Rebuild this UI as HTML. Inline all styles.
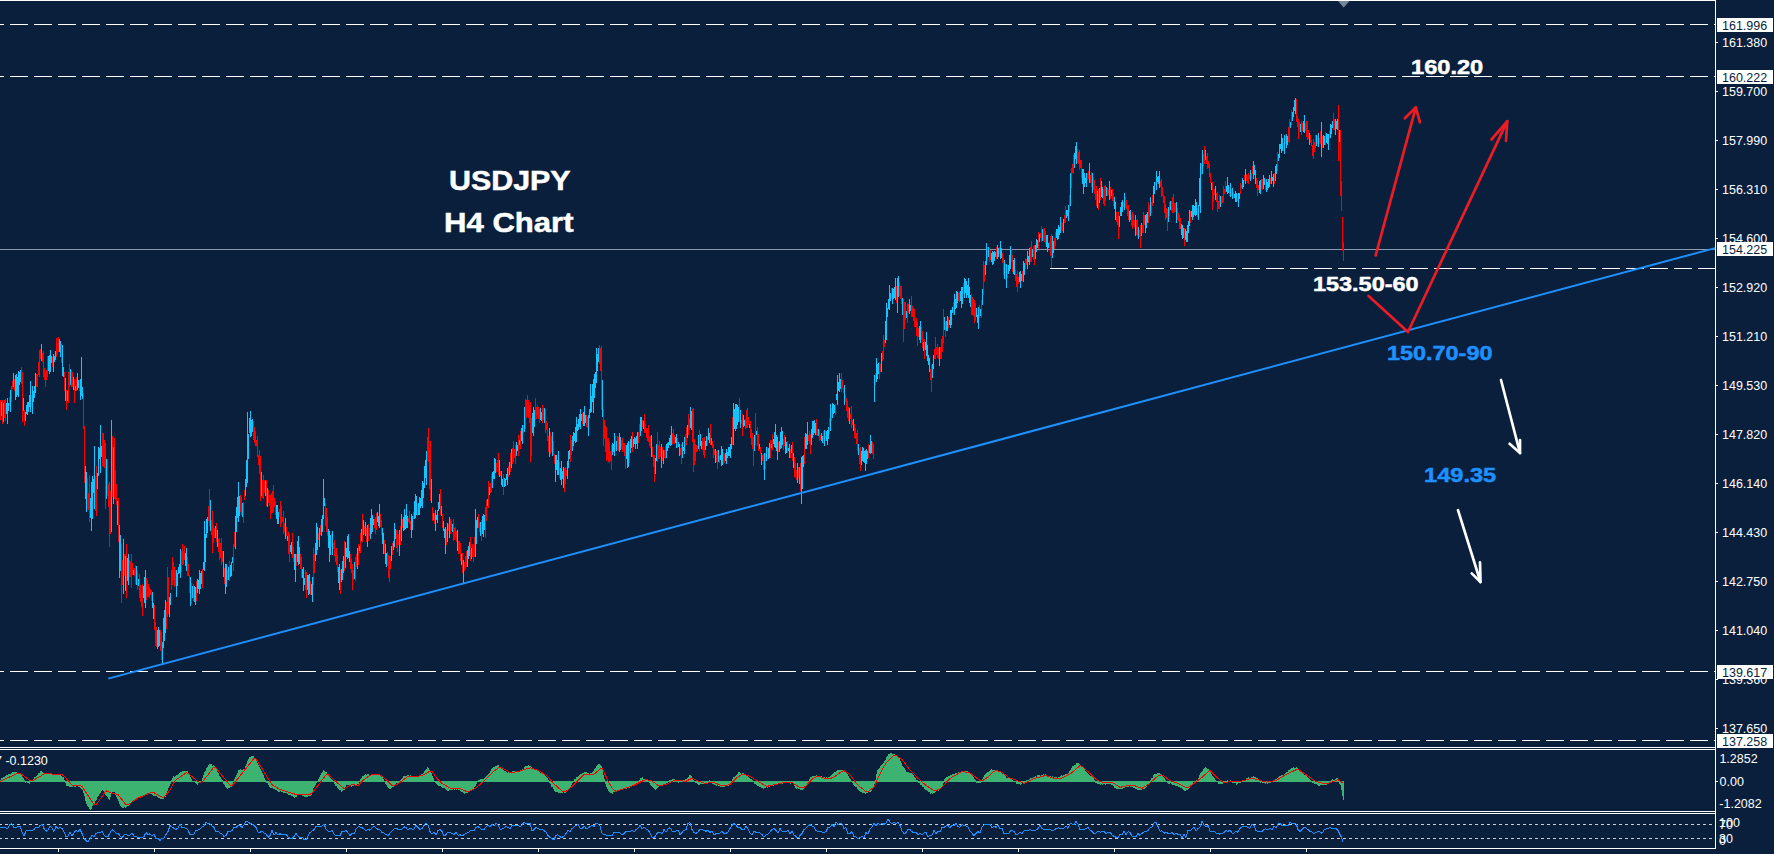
<!DOCTYPE html>
<html><head><meta charset="utf-8"><title>USDJPY H4 Chart</title>
<style>
html,body{margin:0;padding:0;background:#091f3c;}
body{width:1774px;height:854px;position:relative;overflow:hidden;font-family:"Liberation Sans",sans-serif;}
svg{position:absolute;left:0;top:0;}
.ax{position:absolute;left:1722px;color:#fff;font-size:12.5px;line-height:14px;height:14px;white-space:nowrap;}
.bx{position:absolute;left:1717px;width:56px;height:14px;background:#fff;color:#091f3c;font-size:12.5px;line-height:14px;white-space:nowrap;}
.bx span{position:absolute;left:5px;top:1px;}
.big{position:absolute;color:#fff;font-weight:bold;white-space:nowrap;transform-origin:0 0;-webkit-text-stroke:0.5px currentColor;}
</style></head><body>
<svg width="1774" height="854" viewBox="0 0 1774 854">
<rect width="1774" height="854" fill="#091f3c"/>
<g shape-rendering="crispEdges" fill="none">
<!-- borders -->
<path d="M0 .5H1716" stroke="#fff"/>
<path d="M1715.5 0V849" stroke="#fff"/>
<path d="M0 747.5H1716M0 749.5H1716M0 811.5H1716M0 813.5H1716M0 848.5H1716" stroke="#fff"/>
<rect x="1716" y="748" width="58" height="1" fill="#091f3c" stroke="none"/>
<!-- dashed levels -->
<path d="M-14 24.5H1715M-14 76.5H1715M-14 671.5H1715M-14 740.5H1715" stroke="#fff" stroke-dasharray="18 6"/>
<path d="M1050 268.5H1715" stroke="#fff" stroke-dasharray="18 6"/>
<path d="M0 249.5H1715" stroke="#8c9aad"/>
<!-- RSI levels -->
<path d="M-1 824.5H1713M-1 838.5H1713" stroke="#cfcfcf" stroke-dasharray="3 3"/>

<path d="M1716 42.5H1718M1716 91.5H1718M1716 140.5H1718M1716 189.5H1718M1716 238.5H1718M1716 287.5H1718M1716 336.5H1718M1716 385.5H1718M1716 434.5H1718M1716 483.5H1718M1716 532.5H1718M1716 581.5H1718M1716 630.5H1718M1716 679.5H1718M1716 728.5H1718M1716 781.5H1718" stroke="#fff"/>
<path d="M58.5 848V852M154.5 848V852M250.5 848V852M346.5 848V852M442.5 848V852M538.5 848V852M634.5 848V852M730.5 848V852M826.5 848V852M922.5 848V852M1018.5 848V852M1114.5 848V852M1210.5 848V852M1306.5 848V852" stroke="#fff"/>
<path d="M0.5 780V782M1.5 778V782M2.5 778V782M3.5 777V782M4.5 777V782M5.5 776V782M6.5 775V782M7.5 775V782M8.5 774V782M9.5 774V782M10.5 774V782M11.5 773V782M12.5 772V782M13.5 772V782M14.5 772V782M15.5 772V782M16.5 772V782M17.5 773V782M18.5 773V782M19.5 773V782M20.5 774V782M21.5 775V782M22.5 777V782M23.5 778V782M24.5 780V782M25.5 781V783M26.5 781V782M27.5 781V783M28.5 781V783M29.5 781V784M30.5 781V782M31.5 780V782M32.5 780V782M33.5 779V782M34.5 777V782M35.5 777V782M36.5 776V782M37.5 775V782M38.5 773V782M39.5 773V782M40.5 771V782M41.5 771V782M42.5 772V782M43.5 773V782M44.5 773V782M45.5 773V782M46.5 773V782M47.5 774V782M48.5 773V782M49.5 774V782M50.5 774V782M51.5 774V782M52.5 774V782M53.5 774V782M54.5 774V782M55.5 774V782M56.5 774V782M57.5 774V782M58.5 774V782M59.5 774V782M60.5 775V782M61.5 776V782M62.5 777V782M63.5 777V782M64.5 780V782M65.5 781V783M66.5 781V786M67.5 781V786M68.5 781V786M69.5 781V787M70.5 781V787M71.5 781V787M72.5 781V787M73.5 781V786M74.5 781V787M75.5 781V787M76.5 781V786M77.5 781V786M78.5 781V787M79.5 781V787M80.5 781V788M81.5 781V789M82.5 781V790M83.5 781V793M84.5 781V796M85.5 781V801M86.5 781V804M87.5 781V806M88.5 781V807M89.5 781V809M90.5 781V810M91.5 781V809M92.5 781V806M93.5 781V805M94.5 781V804M95.5 781V801M96.5 781V800M97.5 781V797M98.5 781V796M99.5 781V794M100.5 781V793M101.5 781V791M102.5 781V790M103.5 781V791M104.5 781V793M105.5 781V795M106.5 781V796M107.5 781V797M108.5 781V799M109.5 781V800M110.5 781V797M111.5 781V793M112.5 781V792M113.5 781V792M114.5 781V792M115.5 781V795M116.5 781V797M117.5 781V799M118.5 781V801M119.5 781V804M120.5 781V806M121.5 781V807M122.5 781V808M123.5 781V808M124.5 781V807M125.5 781V808M126.5 781V807M127.5 781V806M128.5 781V806M129.5 781V805M130.5 781V804M131.5 781V802M132.5 781V802M133.5 781V801M134.5 781V800M135.5 781V799M136.5 781V799M137.5 781V799M138.5 781V798M139.5 781V797M140.5 781V797M141.5 781V797M142.5 781V796M143.5 781V796M144.5 781V795M145.5 781V795M146.5 781V795M147.5 781V794M148.5 781V794M149.5 781V793M150.5 781V794M151.5 781V794M152.5 781V795M153.5 781V796M154.5 781V796M155.5 781V796M156.5 781V796M157.5 781V797M158.5 781V798M159.5 781V798M160.5 781V799M161.5 781V799M162.5 781V799M163.5 781V799M164.5 781V797M165.5 781V797M166.5 781V794M167.5 781V791M168.5 781V788M169.5 781V786M170.5 781V784M171.5 780V782M172.5 778V782M173.5 776V782M174.5 777V782M175.5 776V782M176.5 775V782M177.5 775V782M178.5 774V782M179.5 773V782M180.5 772V782M181.5 772V782M182.5 771V782M183.5 771V782M184.5 771V782M185.5 771V782M186.5 771V782M187.5 771V782M188.5 774V782M189.5 775V782M190.5 777V782M191.5 779V782M192.5 781V782M193.5 781V782M194.5 781V782M195.5 781V783M196.5 781V784M197.5 781V785M198.5 781V783M199.5 781V783M200.5 781V783M201.5 781V782M202.5 778V782M203.5 775V782M204.5 772V782M205.5 771V782M206.5 768V782M207.5 767V782M208.5 765V782M209.5 764V782M210.5 764V782M211.5 764V782M212.5 766V782M213.5 765V782M214.5 766V782M215.5 768V782M216.5 769V782M217.5 772V782M218.5 773V782M219.5 776V782M220.5 777V782M221.5 779V782M222.5 780V782M223.5 781V784M224.5 781V785M225.5 781V787M226.5 781V788M227.5 781V789M228.5 781V788M229.5 781V788M230.5 781V787M231.5 781V787M232.5 781V784M233.5 781V782M234.5 779V782M235.5 777V782M236.5 775V782M237.5 773V782M238.5 770V782M239.5 770V782M240.5 769V782M241.5 770V782M242.5 770V782M243.5 769V782M244.5 770V782M245.5 766V782M246.5 764V782M247.5 761V782M248.5 759V782M249.5 757V782M250.5 757V782M251.5 756V782M252.5 756V782M253.5 756V782M254.5 758V782M255.5 759V782M256.5 761V782M257.5 763V782M258.5 765V782M259.5 767V782M260.5 769V782M261.5 771V782M262.5 773V782M263.5 775V782M264.5 778V782M265.5 780V782M266.5 781V783M267.5 781V783M268.5 781V785M269.5 781V787M270.5 781V788M271.5 781V788M272.5 781V788M273.5 781V789M274.5 781V789M275.5 781V790M276.5 781V790M277.5 781V791M278.5 781V792M279.5 781V792M280.5 781V791M281.5 781V792M282.5 781V792M283.5 781V793M284.5 781V793M285.5 781V793M286.5 781V793M287.5 781V794M288.5 781V795M289.5 781V795M290.5 781V795M291.5 781V796M292.5 781V796M293.5 781V797M294.5 781V798M295.5 781V797M296.5 781V797M297.5 781V795M298.5 781V795M299.5 781V795M300.5 781V795M301.5 781V795M302.5 781V796M303.5 781V796M304.5 781V797M305.5 781V797M306.5 781V797M307.5 781V797M308.5 781V796M309.5 781V796M310.5 781V796M311.5 781V795M312.5 781V793M313.5 781V788M314.5 781V787M315.5 781V785M316.5 781V783M317.5 781V782M318.5 779V782M319.5 777V782M320.5 775V782M321.5 773V782M322.5 772V782M323.5 770V782M324.5 771V782M325.5 772V782M326.5 772V782M327.5 774V782M328.5 775V782M329.5 776V782M330.5 778V782M331.5 779V782M332.5 780V782M333.5 781V782M334.5 781V784M335.5 781V786M336.5 781V786M337.5 781V788M338.5 781V789M339.5 781V790M340.5 781V790M341.5 781V792M342.5 781V791M343.5 781V790M344.5 781V790M345.5 781V787M346.5 781V785M347.5 781V785M348.5 781V785M349.5 781V785M350.5 781V786M351.5 781V787M352.5 781V786M353.5 781V786M354.5 781V785M355.5 781V785M356.5 781V785M357.5 781V784M358.5 781V784M359.5 781V782M360.5 779V782M361.5 778V782M362.5 776V782M363.5 776V782M364.5 775V782M365.5 774V782M366.5 775V782M367.5 774V782M368.5 774V782M369.5 775V782M370.5 775V782M371.5 775V782M372.5 775V782M373.5 775V782M374.5 775V782M375.5 775V782M376.5 775V782M377.5 774V782M378.5 775V782M379.5 774V782M380.5 775V782M381.5 776V782M382.5 777V782M383.5 779V782M384.5 781V782M385.5 781V784M386.5 781V785M387.5 781V787M388.5 781V788M389.5 781V789M390.5 781V789M391.5 781V788M392.5 781V787M393.5 781V787M394.5 781V786M395.5 781V785M396.5 781V783M397.5 781V783M398.5 781V783M399.5 781V783M400.5 780V782M401.5 779V782M402.5 778V782M403.5 776V782M404.5 776V782M405.5 776V782M406.5 776V782M407.5 775V782M408.5 775V782M409.5 776V782M410.5 775V782M411.5 776V782M412.5 776V782M413.5 776V782M414.5 776V782M415.5 776V782M416.5 776V782M417.5 776V782M418.5 776V782M419.5 775V782M420.5 775V782M421.5 774V782M422.5 774V782M423.5 773V782M424.5 771V782M425.5 770V782M426.5 769V782M427.5 767V782M428.5 768V782M429.5 770V782M430.5 771V782M431.5 773V782M432.5 776V782M433.5 778V782M434.5 781V782M435.5 781V783M436.5 781V784M437.5 781V785M438.5 781V786M439.5 781V786M440.5 781V786M441.5 781V787M442.5 781V788M443.5 781V788M444.5 781V788M445.5 781V789M446.5 781V790M447.5 781V791M448.5 781V791M449.5 781V790M450.5 781V790M451.5 781V790M452.5 781V790M453.5 781V789M454.5 781V790M455.5 781V789M456.5 781V790M457.5 781V789M458.5 781V790M459.5 781V790M460.5 781V791M461.5 781V792M462.5 781V792M463.5 781V793M464.5 781V794M465.5 781V793M466.5 781V793M467.5 781V793M468.5 781V792M469.5 781V791M470.5 781V791M471.5 781V790M472.5 781V790M473.5 781V789M474.5 781V787M475.5 781V786M476.5 781V784M477.5 781V782M478.5 780V782M479.5 780V782M480.5 779V782M481.5 779V782M482.5 779V782M483.5 779V782M484.5 778V782M485.5 777V782M486.5 776V782M487.5 775V782M488.5 774V782M489.5 773V782M490.5 771V782M491.5 769V782M492.5 768V782M493.5 767V782M494.5 767V782M495.5 766V782M496.5 766V782M497.5 765V782M498.5 765V782M499.5 767V782M500.5 767V782M501.5 768V782M502.5 768V782M503.5 770V782M504.5 771V782M505.5 771V782M506.5 772V782M507.5 773V782M508.5 772V782M509.5 772V782M510.5 772V782M511.5 772V782M512.5 771V782M513.5 771V782M514.5 771V782M515.5 771V782M516.5 771V782M517.5 771V782M518.5 771V782M519.5 771V782M520.5 771V782M521.5 770V782M522.5 769V782M523.5 769V782M524.5 767V782M525.5 766V782M526.5 766V782M527.5 766V782M528.5 765V782M529.5 766V782M530.5 766V782M531.5 767V782M532.5 768V782M533.5 769V782M534.5 769V782M535.5 770V782M536.5 770V782M537.5 771V782M538.5 771V782M539.5 772V782M540.5 773V782M541.5 773V782M542.5 773V782M543.5 774V782M544.5 775V782M545.5 776V782M546.5 777V782M547.5 778V782M548.5 780V782M549.5 781V783M550.5 781V784M551.5 781V787M552.5 781V787M553.5 781V789M554.5 781V791M555.5 781V792M556.5 781V792M557.5 781V792M558.5 781V793M559.5 781V793M560.5 781V793M561.5 781V793M562.5 781V793M563.5 781V792M564.5 781V793M565.5 781V793M566.5 781V792M567.5 781V791M568.5 781V790M569.5 781V788M570.5 781V788M571.5 781V785M572.5 781V783M573.5 781V782M574.5 779V782M575.5 779V782M576.5 777V782M577.5 777V782M578.5 776V782M579.5 775V782M580.5 774V782M581.5 774V782M582.5 773V782M583.5 773V782M584.5 772V782M585.5 772V782M586.5 772V782M587.5 773V782M588.5 773V782M589.5 774V782M590.5 773V782M591.5 773V782M592.5 772V782M593.5 771V782M594.5 769V782M595.5 768V782M596.5 766V782M597.5 765V782M598.5 764V782M599.5 764V782M600.5 765V782M601.5 766V782M602.5 770V782M603.5 775V782M604.5 779V782M605.5 781V784M606.5 781V787M607.5 781V789M608.5 781V791M609.5 781V792M610.5 781V793M611.5 781V793M612.5 781V794M613.5 781V792M614.5 781V792M615.5 781V791M616.5 781V791M617.5 781V791M618.5 781V791M619.5 781V790M620.5 781V790M621.5 781V790M622.5 781V790M623.5 781V789M624.5 781V789M625.5 781V789M626.5 781V789M627.5 781V788M628.5 781V787M629.5 781V788M630.5 781V787M631.5 781V786M632.5 781V786M633.5 781V786M634.5 781V785M635.5 781V784M636.5 781V784M637.5 781V783M638.5 781V782M639.5 780V782M640.5 778V782M641.5 778V782M642.5 777V782M643.5 779V782M644.5 779V782M645.5 779V782M646.5 779V782M647.5 779V782M648.5 780V782M649.5 781V783M650.5 781V785M651.5 781V786M652.5 781V787M653.5 781V788M654.5 781V789M655.5 781V790M656.5 781V789M657.5 781V788M658.5 781V787M659.5 781V786M660.5 781V786M661.5 781V786M662.5 781V785M663.5 781V785M664.5 781V784M665.5 781V784M666.5 781V783M667.5 781V783M668.5 781V782M669.5 780V782M670.5 780V782M671.5 780V782M672.5 779V782M673.5 779V782M674.5 779V782M675.5 780V782M676.5 781V782M677.5 781V782M678.5 781V783M679.5 781V782M680.5 780V782M681.5 780V782M682.5 780V782M683.5 780V782M684.5 780V782M685.5 779V782M686.5 779V782M687.5 778V782M688.5 777V782M689.5 775V782M690.5 775V782M691.5 776V782M692.5 779V782M693.5 780V782M694.5 781V782M695.5 781V783M696.5 781V783M697.5 781V784M698.5 781V785M699.5 781V785M700.5 781V784M701.5 781V784M702.5 781V784M703.5 781V784M704.5 781V784M705.5 781V784M706.5 781V783M707.5 781V783M708.5 781V782M709.5 780V782M710.5 781V782M711.5 781V783M712.5 781V784M713.5 781V784M714.5 781V785M715.5 781V785M716.5 781V786M717.5 781V785M718.5 781V786M719.5 781V786M720.5 781V787M721.5 781V787M722.5 781V787M723.5 781V787M724.5 781V787M725.5 781V786M726.5 781V786M727.5 781V786M728.5 781V786M729.5 781V785M730.5 781V783M731.5 781V782M732.5 779V782M733.5 777V782M734.5 777V782M735.5 776V782M736.5 775V782M737.5 774V782M738.5 772V782M739.5 772V782M740.5 773V782M741.5 774V782M742.5 773V782M743.5 773V782M744.5 774V782M745.5 775V782M746.5 775V782M747.5 776V782M748.5 777V782M749.5 778V782M750.5 779V782M751.5 779V782M752.5 780V782M753.5 781V782M754.5 781V784M755.5 781V784M756.5 781V785M757.5 781V786M758.5 781V786M759.5 781V787M760.5 781V787M761.5 781V788M762.5 781V788M763.5 781V789M764.5 781V788M765.5 781V788M766.5 781V787M767.5 781V788M768.5 781V787M769.5 781V787M770.5 781V786M771.5 781V786M772.5 781V786M773.5 781V786M774.5 781V785M775.5 781V784M776.5 781V785M777.5 781V784M778.5 781V784M779.5 781V783M780.5 781V784M781.5 781V783M782.5 781V784M783.5 781V783M784.5 781V783M785.5 781V782M786.5 781V783M787.5 781V782M788.5 781V783M789.5 781V783M790.5 781V784M791.5 781V783M792.5 781V783M793.5 781V784M794.5 781V786M795.5 781V788M796.5 781V789M797.5 781V788M798.5 781V789M799.5 781V789M800.5 781V790M801.5 781V790M802.5 781V790M803.5 781V789M804.5 781V788M805.5 781V786M806.5 781V785M807.5 781V783M808.5 781V782M809.5 779V782M810.5 777V782M811.5 777V782M812.5 776V782M813.5 776V782M814.5 776V782M815.5 776V782M816.5 775V782M817.5 776V782M818.5 776V782M819.5 776V782M820.5 777V782M821.5 776V782M822.5 777V782M823.5 778V782M824.5 777V782M825.5 778V782M826.5 777V782M827.5 778V782M828.5 777V782M829.5 777V782M830.5 776V782M831.5 775V782M832.5 774V782M833.5 773V782M834.5 772V782M835.5 772V782M836.5 771V782M837.5 770V782M838.5 770V782M839.5 770V782M840.5 770V782M841.5 770V782M842.5 770V782M843.5 770V782M844.5 771V782M845.5 772V782M846.5 773V782M847.5 774V782M848.5 776V782M849.5 778V782M850.5 779V782M851.5 781V782M852.5 781V783M853.5 781V785M854.5 781V786M855.5 781V787M856.5 781V787M857.5 781V789M858.5 781V790M859.5 781V791M860.5 781V792M861.5 781V792M862.5 781V793M863.5 781V793M864.5 781V793M865.5 781V794M866.5 781V793M867.5 781V793M868.5 781V792M869.5 781V792M870.5 781V792M871.5 781V791M872.5 781V789M873.5 781V787M874.5 781V784M875.5 780V782M876.5 774V782M877.5 770V782M878.5 769V782M879.5 768V782M880.5 766V782M881.5 765V782M882.5 764V782M883.5 763V782M884.5 761V782M885.5 760V782M886.5 757V782M887.5 756V782M888.5 754V782M889.5 754V782M890.5 753V782M891.5 753V782M892.5 754V782M893.5 754V782M894.5 754V782M895.5 755V782M896.5 756V782M897.5 757V782M898.5 757V782M899.5 758V782M900.5 761V782M901.5 763V782M902.5 766V782M903.5 767V782M904.5 768V782M905.5 770V782M906.5 772V782M907.5 772V782M908.5 772V782M909.5 773V782M910.5 773V782M911.5 773V782M912.5 774V782M913.5 775V782M914.5 777V782M915.5 778V782M916.5 780V782M917.5 780V782M918.5 781V783M919.5 781V783M920.5 781V785M921.5 781V785M922.5 781V787M923.5 781V787M924.5 781V789M925.5 781V790M926.5 781V790M927.5 781V791M928.5 781V792M929.5 781V792M930.5 781V794M931.5 781V793M932.5 781V794M933.5 781V793M934.5 781V793M935.5 781V792M936.5 781V791M937.5 781V790M938.5 781V791M939.5 781V789M940.5 781V789M941.5 781V787M942.5 781V786M943.5 781V783M944.5 779V782M945.5 778V782M946.5 777V782M947.5 777V782M948.5 776V782M949.5 776V782M950.5 775V782M951.5 775V782M952.5 774V782M953.5 774V782M954.5 774V782M955.5 773V782M956.5 773V782M957.5 773V782M958.5 772V782M959.5 772V782M960.5 772V782M961.5 771V782M962.5 771V782M963.5 771V782M964.5 771V782M965.5 771V782M966.5 771V782M967.5 771V782M968.5 772V782M969.5 772V782M970.5 773V782M971.5 775V782M972.5 775V782M973.5 777V782M974.5 779V782M975.5 780V782M976.5 781V783M977.5 781V783M978.5 781V783M979.5 781V783M980.5 781V783M981.5 781V782M982.5 779V782M983.5 777V782M984.5 775V782M985.5 774V782M986.5 773V782M987.5 772V782M988.5 772V782M989.5 771V782M990.5 770V782M991.5 769V782M992.5 770V782M993.5 770V782M994.5 770V782M995.5 770V782M996.5 770V782M997.5 770V782M998.5 771V782M999.5 771V782M1000.5 771V782M1001.5 772V782M1002.5 774V782M1003.5 774V782M1004.5 775V782M1005.5 776V782M1006.5 778V782M1007.5 778V782M1008.5 778V782M1009.5 778V782M1010.5 779V782M1011.5 779V782M1012.5 780V782M1013.5 781V782M1014.5 781V782M1015.5 781V782M1016.5 781V784M1017.5 781V784M1018.5 781V784M1019.5 781V784M1020.5 781V785M1021.5 781V784M1022.5 781V783M1023.5 781V784M1024.5 781V783M1025.5 781V782M1026.5 780V782M1027.5 780V782M1028.5 780V782M1029.5 779V782M1030.5 778V782M1031.5 778V782M1032.5 778V782M1033.5 777V782M1034.5 777V782M1035.5 776V782M1036.5 777V782M1037.5 775V782M1038.5 775V782M1039.5 775V782M1040.5 776V782M1041.5 775V782M1042.5 775V782M1043.5 774V782M1044.5 775V782M1045.5 774V782M1046.5 775V782M1047.5 776V782M1048.5 776V782M1049.5 777V782M1050.5 776V782M1051.5 777V782M1052.5 776V782M1053.5 778V782M1054.5 777V782M1055.5 777V782M1056.5 777V782M1057.5 778V782M1058.5 777V782M1059.5 777V782M1060.5 776V782M1061.5 775V782M1062.5 776V782M1063.5 775V782M1064.5 775V782M1065.5 774V782M1066.5 774V782M1067.5 774V782M1068.5 773V782M1069.5 771V782M1070.5 770V782M1071.5 768V782M1072.5 766V782M1073.5 766V782M1074.5 765V782M1075.5 765V782M1076.5 763V782M1077.5 763V782M1078.5 763V782M1079.5 764V782M1080.5 765V782M1081.5 766V782M1082.5 767V782M1083.5 768V782M1084.5 769V782M1085.5 771V782M1086.5 772V782M1087.5 773V782M1088.5 774V782M1089.5 775V782M1090.5 776V782M1091.5 776V782M1092.5 777V782M1093.5 778V782M1094.5 780V782M1095.5 781V783M1096.5 781V783M1097.5 781V784M1098.5 781V784M1099.5 781V784M1100.5 781V785M1101.5 781V784M1102.5 781V785M1103.5 781V784M1104.5 781V784M1105.5 781V785M1106.5 781V784M1107.5 781V784M1108.5 781V784M1109.5 781V784M1110.5 781V784M1111.5 781V785M1112.5 781V785M1113.5 781V786M1114.5 781V788M1115.5 781V788M1116.5 781V789M1117.5 781V789M1118.5 781V789M1119.5 781V789M1120.5 781V789M1121.5 781V789M1122.5 781V789M1123.5 781V788M1124.5 781V788M1125.5 781V787M1126.5 781V787M1127.5 781V787M1128.5 781V787M1129.5 781V786M1130.5 781V787M1131.5 781V787M1132.5 781V787M1133.5 781V788M1134.5 781V788M1135.5 781V789M1136.5 781V789M1137.5 781V790M1138.5 781V790M1139.5 781V790M1140.5 781V790M1141.5 781V790M1142.5 781V789M1143.5 781V789M1144.5 781V789M1145.5 781V788M1146.5 781V787M1147.5 781V785M1148.5 781V785M1149.5 781V783M1150.5 780V782M1151.5 778V782M1152.5 778V782M1153.5 775V782M1154.5 774V782M1155.5 774V782M1156.5 774V782M1157.5 773V782M1158.5 773V782M1159.5 773V782M1160.5 774V782M1161.5 775V782M1162.5 775V782M1163.5 777V782M1164.5 778V782M1165.5 780V782M1166.5 781V782M1167.5 781V783M1168.5 781V784M1169.5 781V784M1170.5 781V783M1171.5 781V784M1172.5 781V785M1173.5 781V785M1174.5 781V785M1175.5 781V786M1176.5 781V786M1177.5 781V786M1178.5 781V787M1179.5 781V787M1180.5 781V788M1181.5 781V788M1182.5 781V789M1183.5 781V790M1184.5 781V791M1185.5 781V791M1186.5 781V790M1187.5 781V790M1188.5 781V789M1189.5 781V788M1190.5 781V786M1191.5 781V785M1192.5 781V784M1193.5 781V782M1194.5 781V782M1195.5 781V782M1196.5 780V782M1197.5 780V782M1198.5 778V782M1199.5 775V782M1200.5 773V782M1201.5 772V782M1202.5 771V782M1203.5 769V782M1204.5 768V782M1205.5 767V782M1206.5 768V782M1207.5 769V782M1208.5 769V782M1209.5 771V782M1210.5 772V782M1211.5 774V782M1212.5 776V782M1213.5 777V782M1214.5 778V782M1215.5 780V782M1216.5 781V782M1217.5 781V782M1218.5 781V784M1219.5 781V784M1220.5 781V784M1221.5 781V784M1222.5 781V784M1223.5 781V783M1224.5 781V783M1225.5 781V782M1226.5 781V782M1227.5 780V782M1228.5 781V782M1229.5 781V782M1230.5 780V782M1231.5 781V782M1232.5 781V783M1233.5 781V783M1234.5 781V783M1235.5 781V783M1236.5 781V785M1237.5 781V784M1238.5 781V783M1239.5 781V783M1240.5 781V783M1241.5 781V782M1242.5 781V782M1243.5 780V782M1244.5 780V782M1245.5 780V782M1246.5 778V782M1247.5 778V782M1248.5 777V782M1249.5 778V782M1250.5 778V782M1251.5 777V782M1252.5 777V782M1253.5 776V782M1254.5 777V782M1255.5 777V782M1256.5 778V782M1257.5 778V782M1258.5 780V782M1259.5 780V782M1260.5 781V783M1261.5 781V782M1262.5 781V783M1263.5 781V783M1264.5 781V783M1265.5 781V784M1266.5 781V783M1267.5 781V784M1268.5 781V783M1269.5 781V783M1270.5 781V783M1271.5 781V782M1272.5 781V782M1273.5 781V782M1274.5 780V782M1275.5 779V782M1276.5 779V782M1277.5 778V782M1278.5 777V782M1279.5 776V782M1280.5 776V782M1281.5 775V782M1282.5 775V782M1283.5 775V782M1284.5 774V782M1285.5 773V782M1286.5 772V782M1287.5 772V782M1288.5 770V782M1289.5 770V782M1290.5 769V782M1291.5 768V782M1292.5 768V782M1293.5 767V782M1294.5 768V782M1295.5 768V782M1296.5 767V782M1297.5 768V782M1298.5 769V782M1299.5 770V782M1300.5 771V782M1301.5 772V782M1302.5 773V782M1303.5 774V782M1304.5 775V782M1305.5 775V782M1306.5 776V782M1307.5 777V782M1308.5 778V782M1309.5 779V782M1310.5 780V782M1311.5 781V782M1312.5 781V783M1313.5 781V783M1314.5 781V784M1315.5 781V784M1316.5 781V784M1317.5 781V785M1318.5 781V786M1319.5 781V786M1320.5 781V785M1321.5 781V785M1322.5 781V785M1323.5 781V785M1324.5 781V785M1325.5 781V785M1326.5 781V785M1327.5 781V784M1328.5 781V783M1329.5 781V783M1330.5 781V782M1331.5 780V782M1332.5 779V782M1333.5 780V782M1334.5 780V782M1335.5 779V782M1336.5 778V782M1337.5 778V782M1338.5 780V782M1339.5 781V784M1340.5 781V785M1341.5 781V790M1342.5 781V796M1343.5 781V800" stroke="#3cb371"/>
<path d="M1.5 402V416M3.5 403V422M6.5 403V414M7.5 398V424M8.5 403V411M10.5 390V412M13.5 373V387M15.5 375V400M16.5 374V397M17.5 377V395M18.5 371V397M19.5 372V385M20.5 370V382M23.5 398V411M25.5 412V421M26.5 405V414M27.5 402V415M28.5 402V412M29.5 395V407M30.5 381V412M32.5 386V414M33.5 391V402M34.5 386V398M35.5 373V393M41.5 344V361M48.5 356V371M49.5 355V374M50.5 350V372M51.5 356V363M53.5 354V372M54.5 356V362M55.5 351V360M59.5 339V352M60.5 341V357M62.5 345V376M63.5 367V377M65.5 378V401M67.5 391V401M70.5 369V385M73.5 377V390M75.5 386V391M77.5 373V390M78.5 380V388M80.5 379V400M81.5 357V396M82.5 387V399M85.5 466V499M86.5 472V512M90.5 498V518M91.5 482V531M92.5 476V519M93.5 479V493M94.5 446V509M97.5 473V489M98.5 447V476M99.5 448V459M100.5 425V473M101.5 446V457M106.5 459V499M111.5 420V532M113.5 447V504M117.5 501V525M119.5 525V578M120.5 535V571M123.5 539V594M125.5 556V591M127.5 558V581M128.5 554V585M133.5 570V575M136.5 566V585M138.5 579V586M143.5 586V598M144.5 577V603M145.5 570V608M152.5 592V608M153.5 603V619M157.5 630V649M158.5 627V647M159.5 630V646M162.5 642V664M163.5 618V648M164.5 610V641M165.5 600V633M169.5 597V617M170.5 593V605M176.5 570V597M177.5 573V586M178.5 567V574M179.5 564V573M180.5 549V578M185.5 553V566M186.5 548V571M190.5 577V606M192.5 586V598M194.5 586V602M195.5 587V605M197.5 579V593M198.5 580V589M199.5 570V594M200.5 573V589M201.5 571V584M203.5 562V570M204.5 521V571M205.5 534V562M206.5 519V538M207.5 517V533M210.5 500V531M215.5 526V538M217.5 530V547M223.5 551V577M225.5 564V594M226.5 564V587M228.5 567V580M230.5 565V577M231.5 562V576M232.5 557V563M235.5 516V549M236.5 507V532M237.5 497V518M238.5 482V522M239.5 496V516M242.5 503V517M245.5 479V496M246.5 460V487M247.5 412V483M248.5 434V459M249.5 418V433M250.5 411V437M251.5 420V436M252.5 419V432M261.5 472V496M265.5 481V496M267.5 488V507M276.5 505V519M277.5 505V524M278.5 512V524M285.5 518V539M287.5 536V541M290.5 545V552M291.5 542V554M294.5 554V570M295.5 554V582M297.5 541V562M298.5 536V565M299.5 547V564M302.5 569V578M303.5 567V591M304.5 578V585M307.5 575V590M308.5 575V595M309.5 574V594M311.5 584V595M312.5 577V602M315.5 543V561M316.5 523V555M317.5 527V550M319.5 528V547M321.5 519V536M322.5 515V532M323.5 479V519M324.5 498V506M328.5 529V548M329.5 531V562M330.5 535V555M332.5 531V555M338.5 567V583M339.5 564V590M341.5 569V582M342.5 561V580M343.5 556V573M345.5 542V568M346.5 548V557M347.5 536V559M348.5 534V558M349.5 551V562M354.5 562V579M357.5 548V569M359.5 546V551M361.5 529V541M363.5 520V535M365.5 522V536M367.5 525V547M370.5 518V539M371.5 509V534M372.5 515V532M373.5 519V525M377.5 512V522M378.5 516V526M379.5 504V528M382.5 528V544M383.5 533V554M385.5 544V564M386.5 553V567M391.5 546V561M393.5 541V550M394.5 523V547M395.5 529V539M399.5 530V556M401.5 514V541M403.5 517V531M404.5 509V530M405.5 515V529M406.5 504V528M407.5 516V528M411.5 514V538M412.5 516V530M414.5 501V519M415.5 494V518M416.5 496V515M418.5 503V515M419.5 497V515M420.5 498V508M421.5 490V506M422.5 481V508M423.5 483V498M424.5 466V488M425.5 460V478M426.5 451V485M431.5 479V503M433.5 513V520M435.5 510V531M436.5 515V520M437.5 510V523M438.5 502V511M439.5 494V509M441.5 506V516M443.5 521V531M444.5 529V538M445.5 527V554M447.5 523V542M449.5 517V538M452.5 524V532M457.5 530V551M461.5 554V565M463.5 560V583M467.5 550V567M468.5 546V559M469.5 542V556M471.5 548V559M475.5 509V557M476.5 520V544M477.5 517V528M480.5 522V536M482.5 516V534M483.5 514V537M484.5 515V530M487.5 499V506M489.5 487V495M492.5 472V488M493.5 471V479M494.5 458V479M495.5 459V473M499.5 460V477M501.5 471V485M502.5 479V487M504.5 478V487M505.5 479V486M506.5 474V480M507.5 468V485M509.5 462V475M511.5 449V468M516.5 442V456M517.5 445V451M519.5 440V445M521.5 428V441M522.5 425V444M524.5 407V432M532.5 413V433M533.5 407V436M534.5 410V427M540.5 408V420M541.5 412V421M544.5 408V423M549.5 428V457M552.5 432V456M555.5 455V482M556.5 455V470M557.5 460V475M558.5 451V475M560.5 468V480M561.5 461V485M562.5 471V479M563.5 467V488M567.5 461V479M568.5 451V468M569.5 450V459M572.5 436V451M573.5 432V446M574.5 433V441M575.5 427V443M576.5 417V442M577.5 424V431M578.5 419V430M579.5 414V427M580.5 409V429M581.5 414V421M583.5 412V426M584.5 406V426M585.5 415V423M588.5 415V436M589.5 409V418M590.5 384V413M591.5 396V412M592.5 384V402M593.5 379V413M594.5 374V398M595.5 372V388M596.5 348V383M597.5 354V371M598.5 348V362M602.5 380V417M612.5 443V455M613.5 444V452M614.5 433V456M616.5 441V451M619.5 433V452M620.5 437V450M626.5 445V459M627.5 443V468M628.5 441V467M630.5 439V453M631.5 436V448M633.5 439V447M634.5 437V444M635.5 438V449M636.5 436V444M637.5 432V449M640.5 417V436M641.5 417V431M643.5 421V429M651.5 435V457M655.5 458V474M656.5 444V461M661.5 444V468M663.5 450V464M666.5 444V458M667.5 443V451M668.5 442V448M669.5 438V445M670.5 435V446M671.5 426V445M675.5 437V443M676.5 434V448M678.5 442V447M679.5 444V456M682.5 442V458M683.5 447V451M684.5 437V454M687.5 425V438M690.5 407V428M691.5 411V430M698.5 435V449M700.5 434V446M701.5 441V449M705.5 441V450M706.5 436V446M708.5 428V440M709.5 433V443M711.5 438V445M715.5 449V463M718.5 450V462M720.5 455V460M721.5 446V466M722.5 449V465M725.5 453V461M726.5 449V464M727.5 452V458M728.5 447V456M729.5 447V456M730.5 444V458M731.5 437V449M733.5 403V445M734.5 409V429M735.5 404V431M736.5 404V429M737.5 405V425M738.5 407V422M740.5 410V428M743.5 415V427M744.5 420V426M749.5 424V428M754.5 435V451M756.5 431V435M759.5 444V449M761.5 453V465M764.5 453V480M766.5 447V461M768.5 448V459M769.5 443V458M771.5 444V448M773.5 439V444M774.5 432V447M775.5 424V448M776.5 435V451M777.5 437V460M779.5 441V452M780.5 432V449M781.5 427V448M782.5 431V445M785.5 437V454M786.5 442V453M788.5 448V451M789.5 444V458M791.5 445V453M793.5 453V468M797.5 463V483M799.5 467V484M801.5 457V504M802.5 456V489M803.5 455V467M805.5 433V449M806.5 434V449M807.5 422V445M811.5 429V445M812.5 421V438M813.5 421V435M814.5 420V433M815.5 423V435M818.5 429V436M821.5 433V441M822.5 436V443M824.5 430V446M826.5 431V441M827.5 430V445M828.5 427V439M830.5 404V431M832.5 403V418M833.5 404V414M834.5 405V413M836.5 394V400M837.5 375V405M838.5 382V391M839.5 373V392M840.5 379V389M844.5 385V405M849.5 408V424M853.5 419V431M858.5 444V455M861.5 451V465M862.5 447V461M863.5 448V462M864.5 451V463M865.5 450V471M866.5 449V464M867.5 451V459M869.5 445V453M870.5 435V454M871.5 441V453M874.5 375V402M876.5 358V382M877.5 364V379M878.5 363V374M881.5 353V372M885.5 321V343M886.5 303V340M887.5 308V317M888.5 299V309M889.5 285V310M890.5 293V301M892.5 288V304M893.5 289V299M894.5 287V298M895.5 278V300M897.5 278V313M898.5 276V297M902.5 298V315M906.5 311V318M909.5 299V314M910.5 305V311M919.5 326V340M920.5 321V343M923.5 342V351M925.5 342V350M926.5 332V356M927.5 345V361M928.5 355V365M929.5 358V372M932.5 364V378M933.5 355V369M939.5 347V366M944.5 317V330M946.5 321V331M947.5 316V331M949.5 320V325M950.5 310V328M951.5 310V325M952.5 307V313M954.5 294V315M955.5 299V309M956.5 291V308M957.5 292V303M960.5 291V301M961.5 287V308M962.5 287V304M964.5 278V298M965.5 279V293M966.5 281V298M967.5 285V295M968.5 278V298M969.5 287V303M970.5 295V307M976.5 308V317M977.5 315V323M978.5 307V329M980.5 309V316M982.5 289V305M985.5 261V275M986.5 243V265M988.5 247V257M991.5 253V262M992.5 251V265M993.5 252V264M994.5 251V261M995.5 252V257M997.5 245V259M998.5 248V257M1000.5 241V259M1001.5 248V258M1004.5 260V279M1006.5 264V288M1008.5 265V274M1009.5 255V271M1010.5 246V269M1013.5 260V274M1014.5 258V275M1019.5 272V282M1020.5 271V288M1021.5 274V281M1023.5 261V282M1024.5 263V275M1027.5 251V269M1028.5 256V262M1029.5 248V265M1032.5 249V257M1035.5 245V259M1036.5 239V252M1037.5 240V248M1039.5 234V242M1042.5 229V241M1046.5 235V247M1047.5 235V252M1048.5 243V248M1053.5 241V253M1056.5 229V238M1057.5 229V240M1058.5 225V239M1059.5 227V235M1060.5 217V233M1063.5 219V233M1066.5 210V218M1067.5 210V216M1068.5 205V221M1070.5 173V206M1074.5 153V168M1075.5 146V159M1076.5 142V164M1082.5 169V184M1083.5 169V194M1084.5 173V187M1085.5 178V183M1086.5 173V187M1089.5 163V183M1092.5 173V193M1097.5 191V208M1099.5 188V203M1101.5 181V197M1102.5 187V198M1106.5 187V196M1109.5 181V200M1111.5 190V196M1114.5 197V209M1115.5 202V220M1119.5 216V227M1120.5 207V216M1121.5 202V216M1122.5 200V212M1124.5 193V210M1129.5 211V222M1130.5 210V220M1135.5 215V236M1138.5 227V239M1141.5 223V236M1145.5 215V233M1146.5 214V228M1147.5 212V223M1150.5 197V216M1153.5 186V203M1154.5 182V194M1156.5 171V190M1157.5 177V182M1158.5 176V184M1159.5 171V188M1168.5 207V222M1170.5 201V210M1176.5 202V223M1181.5 224V235M1182.5 225V239M1183.5 228V238M1185.5 229V240M1186.5 231V242M1187.5 225V242M1188.5 221V233M1189.5 210V226M1191.5 211V217M1192.5 205V220M1193.5 205V217M1194.5 206V215M1195.5 199V216M1196.5 202V215M1198.5 205V220M1199.5 178V206M1200.5 163V213M1202.5 150V174M1205.5 150V160M1211.5 183V190M1215.5 186V200M1220.5 196V207M1226.5 186V192M1227.5 177V194M1228.5 185V193M1230.5 183V197M1232.5 188V199M1234.5 194V198M1235.5 191V202M1236.5 193V202M1238.5 193V207M1239.5 193V199M1242.5 178V189M1243.5 180V187M1245.5 169V184M1250.5 170V181M1253.5 161V179M1254.5 165V175M1255.5 170V184M1259.5 181V193M1260.5 180V194M1263.5 175V189M1264.5 178V185M1266.5 179V192M1267.5 182V190M1268.5 179V188M1269.5 175V187M1271.5 171V184M1272.5 177V181M1273.5 174V187M1275.5 166V181M1276.5 164V174M1278.5 154V161M1279.5 144V158M1280.5 144V149M1281.5 134V153M1282.5 138V151M1284.5 135V154M1286.5 134V148M1287.5 136V145M1290.5 122V128M1292.5 112V121M1293.5 107V117M1294.5 100V111M1295.5 98V114M1300.5 124V132M1303.5 121V132M1304.5 115V133M1309.5 133V145M1316.5 135V146M1318.5 133V147M1321.5 122V157M1323.5 135V148M1324.5 136V145M1326.5 133V143M1327.5 134V144M1328.5 134V150M1330.5 124V138M1331.5 125V134M1332.5 121V128M1335.5 119V135M1336.5 121V129M1337.5 119V130M1052.5 236V258M1339.5 130V142" stroke="#14c4ff"/>
<path d="M0.5 400V420M2.5 400V424M4.5 400V418M5.5 399V421M9.5 397V406M11.5 386V402M12.5 381V389M14.5 379V391M21.5 367V384M22.5 372V422M24.5 410V426M31.5 395V407M36.5 374V387M37.5 375V387M38.5 362V375M39.5 350V377M40.5 349V359M42.5 353V362M43.5 351V377M44.5 368V380M45.5 372V387M46.5 370V380M47.5 356V377M52.5 357V367M56.5 338V357M57.5 343V355M58.5 337V352M61.5 344V363M64.5 372V391M66.5 390V410M68.5 372V403M69.5 364V387M71.5 370V387M72.5 372V387M74.5 379V403M76.5 377V391M79.5 380V391M83.5 393V429M84.5 426V483M87.5 478V510M88.5 493V510M89.5 475V522M95.5 476V511M96.5 466V516M102.5 433V466M103.5 433V467M104.5 440V468M105.5 443V509M107.5 459V496M108.5 484V507M109.5 482V547M110.5 491V534M112.5 436V497M114.5 438V499M115.5 470V500M116.5 484V505M118.5 498V542M121.5 544V603M122.5 560V585M124.5 554V576M126.5 544V598M129.5 560V577M130.5 561V577M131.5 554V588M132.5 563V575M134.5 568V576M135.5 565V584M137.5 571V590M139.5 574V598M140.5 585V602M141.5 593V607M142.5 584V616M146.5 578V600M147.5 580V597M148.5 584V597M149.5 587V598M150.5 589V595M151.5 590V601M154.5 605V630M155.5 622V646M156.5 627V647M160.5 630V651M161.5 632V660M166.5 602V629M167.5 567V617M168.5 577V614M171.5 570V590M172.5 557V585M173.5 562V580M174.5 567V587M175.5 570V586M181.5 551V572M182.5 544V565M183.5 551V564M184.5 546V560M187.5 557V576M188.5 564V576M189.5 575V593M191.5 583V604M193.5 584V601M196.5 581V601M202.5 569V588M208.5 506V521M209.5 489V526M211.5 520V535M212.5 511V553M213.5 525V543M214.5 528V538M216.5 523V542M218.5 539V552M219.5 538V560M220.5 543V558M221.5 538V565M222.5 551V562M224.5 568V584M227.5 570V580M229.5 561V581M233.5 544V571M234.5 532V547M240.5 495V512M241.5 497V515M243.5 502V523M244.5 490V500M253.5 421V440M254.5 427V443M255.5 431V446M256.5 440V446M257.5 436V457M258.5 455V465M259.5 450V474M260.5 456V501M262.5 480V498M263.5 475V499M264.5 480V493M266.5 480V506M268.5 490V503M269.5 494V506M270.5 495V519M271.5 493V514M272.5 491V513M273.5 485V512M274.5 498V507M275.5 501V515M279.5 509V517M280.5 501V527M281.5 506V524M282.5 517V522M283.5 511V534M284.5 523V532M286.5 527V536M288.5 532V554M289.5 534V562M292.5 533V558M293.5 547V562M296.5 554V566M300.5 554V569M301.5 557V578M305.5 570V590M306.5 572V598M310.5 581V595M313.5 548V585M314.5 554V573M318.5 533V540M320.5 525V535M325.5 503V526M326.5 508V532M327.5 517V536M331.5 533V547M333.5 543V549M334.5 540V556M335.5 552V562M336.5 548V565M337.5 555V572M340.5 570V594M344.5 541V571M350.5 554V569M351.5 559V573M352.5 564V590M353.5 570V580M355.5 557V581M356.5 554V567M358.5 544V565M360.5 533V553M362.5 514V542M364.5 526V534M366.5 528V542M368.5 524V541M369.5 528V536M374.5 519V528M375.5 517V534M376.5 513V530M380.5 514V527M381.5 520V535M384.5 540V554M387.5 552V566M388.5 555V578M389.5 556V582M390.5 556V569M392.5 543V555M396.5 530V548M397.5 530V552M398.5 534V545M400.5 526V545M402.5 519V528M408.5 518V522M409.5 511V524M410.5 521V530M413.5 512V519M417.5 504V516M427.5 437V461M428.5 428V462M429.5 448V489M430.5 441V501M432.5 507V521M434.5 513V524M440.5 489V515M442.5 514V528M446.5 529V545M448.5 524V531M450.5 519V534M451.5 521V531M453.5 519V541M454.5 528V540M455.5 527V537M456.5 531V542M458.5 541V554M459.5 541V553M460.5 543V561M462.5 553V573M464.5 562V571M465.5 556V569M466.5 551V567M470.5 537V561M472.5 544V557M473.5 546V562M474.5 537V557M478.5 514V528M479.5 522V532M481.5 520V541M485.5 507V538M486.5 500V521M488.5 481V508M490.5 483V493M491.5 474V492M496.5 463V472M497.5 460V467M498.5 453V475M500.5 471V476M503.5 474V495M508.5 466V477M510.5 453V472M512.5 448V464M513.5 441V462M514.5 449V458M515.5 445V464M518.5 435V456M520.5 431V449M523.5 425V433M525.5 399V429M526.5 400V418M527.5 395V416M528.5 400V418M529.5 405V423M530.5 402V462M531.5 418V456M535.5 398V420M536.5 407V419M537.5 405V415M538.5 407V419M539.5 409V423M542.5 405V423M543.5 408V420M545.5 409V433M546.5 421V430M547.5 423V441M548.5 436V452M550.5 432V454M551.5 436V452M553.5 441V455M554.5 454V464M559.5 462V478M564.5 468V492M565.5 467V484M566.5 470V476M570.5 435V462M571.5 440V455M582.5 413V424M586.5 415V427M587.5 417V428M599.5 345V364M600.5 348V371M601.5 346V410M603.5 409V446M604.5 420V439M605.5 425V452M606.5 427V461M607.5 439V459M608.5 438V462M609.5 442V463M610.5 451V461M611.5 445V470M615.5 436V450M617.5 436V450M618.5 437V451M621.5 440V449M622.5 438V452M623.5 443V450M624.5 443V456M625.5 445V469M629.5 442V463M632.5 432V452M638.5 432V443M639.5 424V437M642.5 420V427M644.5 414V433M645.5 424V433M646.5 428V438M647.5 428V441M648.5 425V442M649.5 437V446M650.5 436V448M652.5 447V457M653.5 455V467M654.5 455V482M657.5 432V462M658.5 445V459M659.5 441V459M660.5 447V457M662.5 447V461M664.5 450V458M665.5 446V459M672.5 433V444M673.5 429V440M674.5 435V444M677.5 438V448M680.5 448V455M681.5 444V464M685.5 434V446M686.5 427V445M688.5 414V435M689.5 418V430M692.5 409V442M693.5 408V472M694.5 439V465M695.5 444V461M696.5 445V452M697.5 446V451M699.5 430V451M702.5 438V450M703.5 442V455M704.5 437V458M707.5 437V446M710.5 424V445M712.5 441V448M713.5 444V458M714.5 449V455M716.5 451V462M717.5 450V469M719.5 456V463M723.5 453V464M724.5 454V463M732.5 417V445M739.5 398V422M741.5 420V424M742.5 414V436M745.5 419V429M746.5 410V428M747.5 408V428M748.5 417V425M750.5 421V438M751.5 429V445M752.5 433V449M753.5 437V466M755.5 413V445M757.5 427V446M758.5 434V451M760.5 447V454M762.5 455V461M763.5 454V470M765.5 453V469M767.5 447V459M770.5 440V458M772.5 434V450M778.5 442V452M783.5 439V450M784.5 435V446M787.5 441V453M790.5 449V458M792.5 442V461M794.5 457V477M795.5 463V478M796.5 470V480M798.5 467V478M800.5 463V491M804.5 437V464M808.5 435V441M809.5 431V444M810.5 434V454M816.5 419V435M817.5 429V436M819.5 430V441M820.5 435V440M823.5 431V444M825.5 431V441M829.5 418V434M831.5 408V421M835.5 404V415M841.5 373V392M842.5 380V388M843.5 388V393M845.5 395V402M846.5 398V411M847.5 401V418M848.5 407V421M850.5 414V419M851.5 406V428M852.5 420V425M854.5 424V438M855.5 428V439M856.5 433V444M857.5 430V451M859.5 448V464M860.5 447V471M868.5 444V458M872.5 442V454M873.5 444V459M875.5 373V385M879.5 362V379M880.5 364V372M882.5 351V361M883.5 335V359M884.5 340V347M891.5 288V299M896.5 286V303M899.5 282V296M900.5 286V299M901.5 286V304M903.5 299V342M904.5 302V329M905.5 302V320M907.5 303V323M908.5 304V313M911.5 296V317M912.5 306V317M913.5 308V321M914.5 309V327M915.5 321V327M916.5 318V336M917.5 322V346M918.5 328V337M921.5 327V340M922.5 331V348M924.5 339V359M930.5 369V380M931.5 365V392M934.5 349V359M935.5 337V359M936.5 347V355M937.5 344V358M938.5 348V359M940.5 347V359M941.5 339V359M942.5 336V352M943.5 309V343M945.5 321V337M948.5 317V328M953.5 302V315M958.5 293V301M959.5 292V302M963.5 283V294M971.5 294V315M972.5 297V315M973.5 299V316M974.5 300V323M975.5 303V321M979.5 305V318M981.5 300V318M983.5 261V295M984.5 265V282M987.5 247V261M989.5 248V262M990.5 250V260M996.5 247V259M999.5 247V254M1002.5 253V263M1003.5 258V275M1005.5 264V280M1007.5 265V278M1011.5 249V262M1012.5 255V272M1015.5 270V281M1016.5 274V287M1017.5 271V292M1018.5 277V284M1022.5 271V281M1025.5 258V269M1026.5 259V265M1030.5 247V262M1031.5 241V262M1033.5 246V260M1034.5 245V265M1038.5 232V249M1040.5 233V238M1041.5 226V242M1043.5 229V241M1044.5 228V242M1045.5 231V244M1049.5 242V248M1050.5 236V256M1054.5 238V249M1055.5 232V246M1061.5 222V231M1062.5 223V231M1064.5 215V223M1065.5 206V223M1069.5 195V212M1071.5 168V188M1072.5 164V173M1073.5 155V174M1077.5 149V163M1078.5 152V164M1079.5 150V170M1080.5 160V168M1081.5 160V178M1087.5 173V180M1088.5 171V179M1090.5 175V183M1091.5 172V187M1093.5 177V190M1094.5 180V194M1095.5 189V200M1096.5 186V206M1098.5 189V210M1100.5 178V200M1103.5 189V204M1104.5 186V206M1105.5 185V201M1107.5 188V196M1108.5 190V195M1110.5 187V199M1112.5 189V201M1113.5 193V206M1116.5 212V222M1117.5 216V225M1118.5 212V239M1123.5 202V207M1125.5 197V208M1126.5 200V209M1127.5 205V216M1128.5 205V220M1131.5 215V226M1132.5 212V229M1133.5 214V225M1134.5 220V227M1136.5 220V235M1137.5 219V236M1139.5 230V237M1140.5 225V248M1142.5 225V233M1143.5 212V233M1144.5 215V225M1148.5 202V223M1149.5 205V217M1151.5 202V213M1152.5 195V206M1155.5 182V185M1160.5 181V187M1161.5 179V197M1162.5 187V196M1163.5 195V203M1164.5 196V213M1165.5 204V220M1166.5 208V218M1167.5 209V231M1169.5 202V216M1171.5 201V211M1172.5 197V213M1173.5 194V213M1174.5 203V212M1175.5 203V212M1177.5 208V220M1178.5 213V221M1179.5 215V229M1180.5 218V229M1184.5 228V246M1190.5 211V223M1197.5 208V217M1201.5 164V175M1203.5 154V166M1204.5 146V164M1206.5 156V164M1207.5 153V169M1208.5 161V168M1209.5 163V177M1210.5 173V183M1212.5 182V210M1213.5 193V202M1214.5 189V195M1216.5 193V202M1217.5 192V212M1218.5 201V209M1219.5 195V209M1221.5 196V204M1222.5 196V203M1223.5 186V202M1224.5 189V194M1225.5 181V192M1229.5 187V196M1231.5 189V196M1233.5 192V198M1237.5 194V201M1240.5 183V194M1241.5 185V188M1244.5 175V181M1246.5 174V181M1247.5 176V183M1248.5 173V184M1249.5 175V179M1251.5 173V179M1252.5 166V174M1256.5 178V188M1257.5 180V196M1258.5 185V190M1261.5 179V189M1262.5 179V190M1265.5 180V190M1270.5 178V184M1274.5 173V184M1277.5 152V171M1283.5 143V151M1285.5 136V144M1288.5 127V142M1289.5 119V143M1291.5 110V125M1296.5 99V122M1297.5 116V127M1298.5 119V139M1299.5 122V132M1301.5 121V135M1302.5 123V131M1305.5 123V131M1306.5 121V137M1307.5 121V140M1308.5 130V139M1310.5 135V143M1311.5 140V146M1312.5 145V156M1313.5 139V159M1314.5 142V152M1315.5 135V148M1317.5 136V144M1319.5 138V144M1320.5 131V144M1322.5 136V148M1325.5 132V145M1329.5 131V139M1333.5 113V130M1334.5 119V130M1051.5 234V268M1338.5 105V161M1340.5 130V196M1341.5 181V211M1342.5 217V251M1343.5 242V261" stroke="#ff0000"/>
</g>
<path d="M0 781.3 L2 780.4 L4 779.5 L6 778.6 L8 777.7 L10 776.8 L12 775.9 L14 775.0 L16 774.1 L18 773.2 L20 773.2 L22 774.7 L24 776.2 L26 777.7 L28 779.2 L30 780.7 L32 781.0 L34 779.8 L36 778.7 L38 777.5 L40 776.4 L42 775.2 L44 774.1 L46 773.7 L48 773.8 L50 773.9 L52 774.0 L54 774.1 L56 774.2 L58 774.3 L60 774.4 L62 774.6 L64 776.1 L66 778.3 L68 780.5 L70 782.7 L72 784.9 L74 785.4 L76 785.4 L78 785.4 L80 785.4 L82 786.4 L84 789.4 L86 792.4 L88 795.4 L90 798.4 L92 801.4 L94 804.4 L96 805.0 L98 802.2 L100 799.3 L102 796.5 L104 793.6 L106 790.8 L108 791.6 L110 792.5 L112 793.3 L114 793.7 L116 794.0 L118 794.5 L120 797.1 L122 799.6 L124 802.2 L126 804.8 L128 804.9 L130 803.5 L132 802.1 L134 800.7 L136 799.4 L138 798.1 L140 797.2 L142 796.4 L144 795.5 L146 794.7 L148 793.8 L150 793.0 L152 792.1 L154 792.8 L156 793.9 L158 795.0 L160 796.1 L162 797.2 L164 797.0 L166 794.8 L168 792.6 L170 789.8 L172 786.2 L174 782.5 L176 779.9 L178 778.5 L180 777.1 L182 775.7 L184 774.3 L186 772.9 L188 773.2 L190 774.9 L192 776.6 L194 778.4 L196 780.1 L198 781.8 L200 782.2 L202 781.7 L204 779.8 L206 777.3 L208 774.7 L210 772.1 L212 769.6 L214 767.0 L216 768.1 L218 770.5 L220 773.0 L222 775.4 L224 777.9 L226 780.3 L228 782.8 L230 785.2 L232 785.9 L234 783.4 L236 780.9 L238 778.4 L240 775.9 L242 773.4 L244 770.9 L246 768.4 L248 765.9 L250 763.4 L252 760.9 L254 758.4 L256 758.9 L258 762.1 L260 765.4 L262 768.6 L264 771.9 L266 775.1 L268 778.4 L270 781.6 L272 784.6 L274 785.9 L276 787.1 L278 788.4 L280 789.5 L282 790.1 L284 790.8 L286 791.4 L288 792.0 L290 792.6 L292 793.3 L294 793.9 L296 794.3 L298 794.3 L300 794.3 L302 794.3 L304 794.3 L306 794.3 L308 794.3 L310 794.3 L312 793.3 L314 790.6 L316 788.0 L318 785.4 L320 782.8 L322 780.1 L324 777.5 L326 774.9 L328 774.5 L330 776.3 L332 778.0 L334 779.8 L336 781.6 L338 783.3 L340 785.1 L342 786.9 L344 788.4 L346 788.0 L348 786.7 L350 785.3 L352 784.6 L354 784.8 L356 785.1 L358 785.4 L360 783.7 L362 781.7 L364 779.7 L366 778.0 L368 776.6 L370 775.3 L372 774.5 L374 774.4 L376 774.3 L378 774.2 L380 775.0 L382 776.4 L384 777.9 L386 779.6 L388 781.5 L390 783.4 L392 785.3 L394 785.5 L396 784.6 L398 783.8 L400 782.4 L402 780.9 L404 779.3 L406 777.8 L408 776.5 L410 776.5 L412 776.4 L414 776.3 L416 776.3 L418 776.2 L420 775.7 L422 775.2 L424 774.7 L426 773.5 L428 772.3 L430 771.0 L432 771.4 L434 774.3 L436 777.3 L438 779.4 L440 781.4 L442 783.4 L444 784.6 L446 785.7 L448 786.9 L450 788.0 L452 788.1 L454 788.2 L456 788.2 L458 788.3 L460 788.5 L462 789.4 L464 790.3 L466 791.2 L468 791.8 L470 790.9 L472 790.0 L474 789.1 L476 788.1 L478 786.3 L480 784.5 L482 782.7 L484 780.9 L486 779.0 L488 777.0 L490 775.0 L492 773.0 L494 771.2 L496 769.6 L498 768.1 L500 767.4 L502 768.3 L504 769.1 L506 770.1 L508 771.2 L510 772.4 L512 772.8 L514 772.3 L516 771.8 L518 771.4 L520 770.9 L522 770.3 L524 769.7 L526 769.1 L528 768.5 L530 767.9 L532 768.1 L534 768.9 L536 769.6 L538 770.4 L540 771.4 L542 772.7 L544 773.9 L546 775.2 L548 777.1 L550 779.4 L552 781.6 L554 783.9 L556 785.7 L558 787.5 L560 789.2 L562 791.0 L564 791.4 L566 791.4 L568 789.9 L570 788.2 L572 786.4 L574 784.7 L576 782.7 L578 780.7 L580 778.7 L582 776.7 L584 774.7 L586 774.5 L588 774.4 L590 774.4 L592 774.3 L594 774.2 L596 772.5 L598 770.9 L600 769.2 L602 767.9 L604 772.3 L606 776.6 L608 780.9 L610 784.5 L612 788.1 L614 790.2 L616 791.3 L618 790.6 L620 790.0 L622 789.3 L624 788.7 L626 788.0 L628 787.3 L630 786.6 L632 785.9 L634 785.2 L636 784.2 L638 783.2 L640 782.2 L642 781.2 L644 780.2 L646 779.6 L648 780.0 L650 780.3 L652 781.1 L654 782.5 L656 783.9 L658 785.3 L660 785.8 L662 785.3 L664 784.8 L666 784.3 L668 783.6 L670 782.6 L672 781.6 L674 780.6 L676 780.2 L678 780.4 L680 780.6 L682 780.9 L684 781.3 L686 781.2 L688 780.2 L690 779.3 L692 778.3 L694 779.0 L696 779.9 L698 780.9 L700 781.8 L702 782.4 L704 783.1 L706 783.3 L708 783.0 L710 782.6 L712 782.3 L714 782.5 L716 783.3 L718 784.2 L720 785.0 L722 785.4 L724 785.2 L726 785.1 L728 785.0 L730 784.6 L732 782.5 L734 780.4 L736 778.3 L738 776.8 L740 775.7 L742 774.6 L744 774.5 L746 775.0 L748 775.5 L750 776.4 L752 777.6 L754 778.8 L756 780.0 L758 781.2 L760 782.5 L762 783.7 L764 785.0 L766 786.2 L768 786.1 L770 785.7 L772 785.3 L774 784.9 L776 784.4 L778 783.9 L780 783.5 L782 783.0 L784 782.5 L786 782.5 L788 782.5 L790 782.5 L792 782.5 L794 783.8 L796 785.0 L798 786.3 L800 787.4 L802 787.4 L804 787.4 L806 786.0 L808 783.7 L810 781.4 L812 779.3 L814 778.2 L816 777.1 L818 776.3 L820 776.8 L822 777.4 L824 778.0 L826 778.5 L828 778.8 L830 778.3 L832 777.9 L834 777.1 L836 775.6 L838 774.1 L840 772.6 L842 771.2 L844 770.7 L846 771.8 L848 772.9 L850 774.8 L852 777.5 L854 780.3 L856 783.0 L858 785.2 L860 786.8 L862 788.4 L864 790.0 L866 791.6 L868 791.6 L870 790.1 L872 788.7 L874 787.0 L876 782.6 L878 778.2 L880 774.1 L882 770.1 L884 766.1 L886 763.3 L888 761.3 L890 759.2 L892 757.1 L894 755.0 L896 755.5 L898 756.8 L900 758.2 L902 759.5 L904 762.0 L906 764.7 L908 767.5 L910 770.2 L912 772.3 L914 774.3 L916 776.3 L918 778.3 L920 780.1 L922 781.9 L924 783.6 L926 785.4 L928 786.7 L930 788.1 L932 789.4 L934 790.8 L936 790.3 L938 789.8 L940 789.3 L942 787.1 L944 784.9 L946 782.7 L948 780.5 L950 778.4 L952 777.2 L954 776.1 L956 774.9 L958 773.7 L960 772.6 L962 771.7 L964 771.9 L966 772.2 L968 772.4 L970 773.0 L972 774.5 L974 776.0 L976 777.5 L978 779.0 L980 780.5 L982 781.1 L984 779.7 L986 778.4 L988 776.9 L990 775.0 L992 773.2 L994 771.3 L996 770.5 L998 770.9 L1000 771.4 L1002 772.3 L1004 773.8 L1006 775.3 L1008 776.8 L1010 777.9 L1012 778.6 L1014 779.2 L1016 780.0 L1018 780.9 L1020 781.7 L1022 782.5 L1024 783.3 L1026 782.6 L1028 781.5 L1030 780.4 L1032 779.3 L1034 778.4 L1036 777.9 L1038 777.4 L1040 776.9 L1042 776.4 L1044 775.9 L1046 775.8 L1048 776.4 L1050 777.0 L1052 777.6 L1054 778.2 L1056 778.5 L1058 778.4 L1060 778.3 L1062 778.1 L1064 777.1 L1066 776.1 L1068 775.0 L1070 774.0 L1072 772.6 L1074 770.8 L1076 769.1 L1078 767.4 L1080 765.7 L1082 766.3 L1084 768.1 L1086 769.9 L1088 771.7 L1090 773.7 L1092 775.7 L1094 777.7 L1096 779.7 L1098 780.6 L1100 781.3 L1102 782.0 L1104 782.2 L1106 782.2 L1108 782.3 L1110 782.4 L1112 782.5 L1114 783.6 L1116 784.8 L1118 786.1 L1120 787.3 L1122 786.9 L1124 786.4 L1126 785.9 L1128 785.4 L1130 785.4 L1132 785.4 L1134 785.5 L1136 786.2 L1138 787.0 L1140 787.7 L1142 788.3 L1144 787.0 L1146 785.8 L1148 784.5 L1150 783.2 L1152 781.3 L1154 779.5 L1156 777.6 L1158 776.0 L1160 775.4 L1162 774.8 L1164 775.9 L1166 777.6 L1168 779.3 L1170 780.7 L1172 781.3 L1174 781.9 L1176 782.5 L1178 783.3 L1180 784.4 L1182 785.5 L1184 786.6 L1186 787.7 L1188 787.8 L1190 786.3 L1192 784.8 L1194 783.3 L1196 781.8 L1198 780.3 L1200 778.8 L1202 777.3 L1204 775.6 L1206 773.8 L1208 772.0 L1210 770.4 L1212 772.5 L1214 774.6 L1216 776.7 L1218 778.4 L1220 779.9 L1222 781.3 L1224 782.4 L1226 782.2 L1228 782.0 L1230 781.8 L1232 781.6 L1234 781.5 L1236 781.5 L1238 781.5 L1240 781.5 L1242 781.1 L1244 780.5 L1246 779.9 L1248 779.4 L1250 778.8 L1252 778.2 L1254 778.6 L1256 779.2 L1258 779.8 L1260 780.3 L1262 780.9 L1264 781.5 L1266 782.1 L1268 781.8 L1270 781.5 L1272 781.1 L1274 780.8 L1276 780.5 L1278 779.3 L1280 778.1 L1282 776.9 L1284 775.7 L1286 774.5 L1288 773.6 L1290 772.6 L1292 771.7 L1294 770.8 L1296 769.8 L1298 769.3 L1300 770.6 L1302 771.9 L1304 773.3 L1306 774.6 L1308 775.9 L1310 777.4 L1312 778.9 L1314 780.4 L1316 781.6 L1318 782.1 L1320 782.6 L1322 783.1 L1324 783.4 L1326 783.2 L1328 783.1 L1330 782.9 L1332 782.1 L1334 781.3 L1336 780.4 L1338 779.6 L1340 780.9 L1342 782.4 L1343 782.5" stroke="#ff0000" stroke-width="1" fill="none" shape-rendering="crispEdges"/>
<path d="M0 828.1 L2 827.3 L4 827.0 L6 828.0 L8 828.3 L10 824.4 L12 823.6 L14 827.7 L16 827.5 L18 826.6 L20 825.9 L22 831.8 L24 836.0 L26 831.1 L28 830.5 L30 831.1 L32 830.4 L34 829.6 L36 826.9 L38 828.1 L40 825.5 L42 824.3 L44 828.4 L46 831.3 L48 829.9 L50 826.6 L52 827.8 L54 831.4 L56 826.5 L58 828.4 L60 827.5 L62 828.6 L64 832.0 L66 836.4 L68 836.3 L70 831.7 L72 835.8 L74 833.0 L76 830.3 L78 832.0 L80 829.3 L82 833.5 L84 838.0 L86 840.8 L88 841.7 L90 839.0 L92 835.1 L94 836.5 L96 833.6 L98 832.7 L100 832.8 L102 830.8 L104 834.9 L106 836.9 L108 836.6 L110 832.7 L112 829.7 L114 831.2 L116 832.9 L118 833.5 L120 835.8 L122 838.1 L124 834.7 L126 834.5 L128 835.6 L130 835.1 L132 832.9 L134 836.0 L136 836.1 L138 837.6 L140 837.1 L142 837.8 L144 836.6 L146 832.7 L148 834.7 L150 833.8 L152 836.1 L154 834.4 L156 838.5 L158 838.5 L160 840.4 L162 838.1 L164 838.0 L166 834.6 L168 831.6 L170 825.6 L172 827.2 L174 828.3 L176 829.4 L178 828.1 L180 824.3 L182 827.5 L184 827.4 L186 828.4 L188 830.1 L190 834.6 L192 834.4 L194 834.0 L196 830.3 L198 830.2 L200 829.1 L202 827.2 L204 826.1 L206 822.6 L208 823.8 L210 823.8 L212 825.9 L214 827.5 L216 832.1 L218 831.0 L220 833.2 L222 833.9 L224 836.6 L226 835.7 L228 831.4 L230 831.3 L232 830.8 L234 827.2 L236 827.5 L238 825.6 L240 825.5 L242 827.5 L244 824.7 L246 821.1 L248 821.8 L250 823.5 L252 823.8 L254 825.4 L256 827.5 L258 832.0 L260 832.3 L262 831.3 L264 833.0 L266 833.8 L268 837.3 L270 835.7 L272 830.5 L274 834.9 L276 832.6 L278 834.9 L280 833.8 L282 834.7 L284 834.4 L286 833.9 L288 836.8 L290 838.3 L292 838.4 L294 836.6 L296 833.6 L298 835.8 L300 837.8 L302 836.9 L304 839.6 L306 839.9 L308 835.7 L310 832.6 L312 831.2 L314 829.7 L316 826.5 L318 827.0 L320 826.0 L322 826.2 L324 824.2 L326 828.8 L328 830.9 L330 832.0 L332 830.0 L334 834.2 L336 835.7 L338 835.1 L340 836.1 L342 831.0 L344 831.8 L346 830.1 L348 833.1 L350 835.5 L352 833.2 L354 834.1 L356 829.3 L358 826.7 L360 827.0 L362 827.5 L364 829.1 L366 830.9 L368 829.0 L370 830.3 L372 828.1 L374 826.1 L376 828.1 L378 829.4 L380 829.8 L382 832.8 L384 833.0 L386 834.7 L388 835.5 L390 833.2 L392 831.1 L394 829.1 L396 828.3 L398 829.2 L400 829.9 L402 829.1 L404 826.7 L406 827.7 L408 829.8 L410 828.3 L412 829.0 L414 829.2 L416 825.0 L418 827.7 L420 829.4 L422 828.4 L424 825.5 L426 822.8 L428 824.7 L430 831.6 L432 833.9 L434 832.1 L436 835.1 L438 830.4 L440 829.4 L442 831.3 L444 835.9 L446 834.8 L448 831.9 L450 832.7 L452 833.4 L454 835.0 L456 832.1 L458 835.3 L460 834.7 L462 836.1 L464 834.5 L466 833.6 L468 832.6 L470 830.9 L472 830.3 L474 830.6 L476 827.3 L478 826.5 L480 828.1 L482 829.9 L484 829.4 L486 827.1 L488 825.0 L490 826.9 L492 824.3 L494 825.9 L496 823.6 L498 824.8 L500 829.0 L502 829.1 L504 827.9 L506 826.1 L508 827.7 L510 828.5 L512 825.6 L514 825.0 L516 825.2 L518 825.0 L520 826.6 L522 825.0 L524 822.1 L526 824.1 L528 823.4 L530 823.2 L532 830.8 L534 829.8 L536 827.6 L538 828.3 L540 829.9 L542 829.0 L544 830.6 L546 832.0 L548 835.6 L550 837.7 L552 838.6 L554 840.1 L556 835.2 L558 834.8 L560 836.8 L562 837.6 L564 835.8 L566 833.7 L568 830.3 L570 831.7 L572 828.6 L574 827.0 L576 825.4 L578 824.4 L580 828.2 L582 828.7 L584 826.2 L586 828.4 L588 828.2 L590 826.7 L592 824.8 L594 826.5 L596 823.6 L598 823.8 L600 825.7 L602 833.3 L604 835.0 L606 834.9 L608 835.6 L610 835.8 L612 835.7 L614 832.4 L616 832.8 L618 832.9 L620 832.8 L622 835.2 L624 833.6 L626 831.6 L628 830.9 L630 832.2 L632 829.7 L634 832.3 L636 829.6 L638 828.1 L640 825.3 L642 828.5 L644 827.2 L646 829.2 L648 830.1 L650 833.0 L652 837.1 L654 838.0 L656 834.9 L658 832.2 L660 832.4 L662 834.0 L664 829.5 L666 832.2 L668 829.2 L670 827.7 L672 830.9 L674 832.1 L676 830.8 L678 830.3 L680 834.4 L682 832.4 L684 830.2 L686 829.6 L688 823.3 L690 822.7 L692 829.6 L694 832.5 L696 833.5 L698 832.0 L700 829.2 L702 829.9 L704 830.2 L706 831.2 L708 830.5 L710 832.4 L712 831.1 L714 835.1 L716 833.5 L718 834.1 L720 832.8 L722 831.5 L724 833.8 L726 833.5 L728 831.9 L730 828.4 L732 825.4 L734 823.6 L736 825.2 L738 828.1 L740 827.1 L742 830.0 L744 829.9 L746 826.2 L748 828.9 L750 833.2 L752 835.1 L754 831.2 L756 832.3 L758 832.5 L760 832.9 L762 834.6 L764 836.9 L766 835.2 L768 834.1 L770 831.7 L772 829.2 L774 828.6 L776 830.6 L778 833.3 L780 828.6 L782 831.0 L784 831.9 L786 831.6 L788 830.4 L790 833.7 L792 831.5 L794 834.8 L796 836.6 L798 837.9 L800 835.6 L802 833.7 L804 829.5 L806 828.1 L808 825.9 L810 824.6 L812 826.0 L814 826.8 L816 830.7 L818 831.5 L820 831.6 L822 831.9 L824 832.8 L826 831.6 L828 827.6 L830 827.1 L832 824.4 L834 826.6 L836 821.9 L838 824.4 L840 823.7 L842 823.6 L844 828.5 L846 827.6 L848 833.8 L850 833.5 L852 831.7 L854 836.6 L856 836.9 L858 839.0 L860 837.4 L862 836.2 L864 837.7 L866 832.5 L868 834.0 L870 829.2 L872 827.2 L874 823.6 L876 825.7 L878 823.3 L880 824.7 L882 822.8 L884 824.4 L886 822.9 L888 819.3 L890 821.9 L892 823.9 L894 822.1 L896 823.8 L898 822.0 L900 825.4 L902 830.8 L904 833.7 L906 832.7 L908 829.0 L910 829.7 L912 831.8 L914 832.6 L916 832.1 L918 834.7 L920 833.3 L922 835.3 L924 832.8 L926 832.4 L928 837.0 L930 835.3 L932 835.4 L934 830.4 L936 833.7 L938 831.4 L940 831.9 L942 827.4 L944 827.3 L946 825.9 L948 825.4 L950 828.1 L952 824.8 L954 825.9 L956 823.2 L958 826.7 L960 827.3 L962 823.8 L964 825.9 L966 826.0 L968 827.2 L970 830.8 L972 832.7 L974 836.0 L976 833.3 L978 831.6 L980 833.0 L982 827.2 L984 824.8 L986 824.5 L988 824.2 L990 824.0 L992 827.8 L994 825.9 L996 827.4 L998 825.1 L1000 828.7 L1002 828.4 L1004 833.8 L1006 833.6 L1008 834.1 L1010 831.3 L1012 830.0 L1014 831.6 L1016 835.0 L1018 834.3 L1020 832.0 L1022 833.6 L1024 831.1 L1026 829.9 L1028 830.8 L1030 829.1 L1032 830.5 L1034 830.8 L1036 830.1 L1038 828.6 L1040 825.4 L1042 828.8 L1044 829.2 L1046 829.5 L1048 829.0 L1050 829.4 L1052 831.1 L1054 830.3 L1056 828.4 L1058 827.9 L1060 828.1 L1062 828.9 L1064 828.0 L1066 826.0 L1068 828.4 L1070 823.7 L1072 823.9 L1074 824.4 L1076 821.4 L1078 824.2 L1080 829.6 L1082 829.2 L1084 829.6 L1086 828.2 L1088 827.6 L1090 830.1 L1092 831.4 L1094 833.8 L1096 833.3 L1098 831.0 L1100 832.2 L1102 831.7 L1104 830.9 L1106 833.8 L1108 832.4 L1110 832.0 L1112 834.9 L1114 836.3 L1116 837.3 L1118 837.6 L1120 833.9 L1122 834.5 L1124 831.1 L1126 835.0 L1128 831.7 L1130 832.6 L1132 836.3 L1134 836.1 L1136 836.6 L1138 833.4 L1140 835.3 L1142 833.3 L1144 832.1 L1146 831.7 L1148 830.6 L1150 827.8 L1152 827.0 L1154 823.0 L1156 822.4 L1158 826.4 L1160 831.3 L1162 830.9 L1164 833.3 L1166 832.0 L1168 833.4 L1170 833.5 L1172 832.1 L1174 834.8 L1176 832.9 L1178 834.5 L1180 834.5 L1182 837.4 L1184 834.3 L1186 837.4 L1188 830.2 L1190 831.1 L1192 828.8 L1194 827.3 L1196 830.8 L1198 828.7 L1200 826.8 L1202 820.8 L1204 824.7 L1206 827.2 L1208 825.4 L1210 831.0 L1212 831.0 L1214 831.3 L1216 833.1 L1218 833.7 L1220 834.1 L1222 833.4 L1224 832.5 L1226 830.6 L1228 831.4 L1230 829.9 L1232 833.1 L1234 833.0 L1236 831.1 L1238 832.4 L1240 828.4 L1242 826.8 L1244 826.3 L1246 826.1 L1248 827.9 L1250 828.2 L1252 824.3 L1254 825.4 L1256 830.4 L1258 832.1 L1260 831.4 L1262 832.0 L1264 829.3 L1266 828.9 L1268 829.9 L1270 828.4 L1272 829.7 L1274 826.3 L1276 827.7 L1278 824.0 L1280 823.5 L1282 825.6 L1284 825.7 L1286 824.8 L1288 825.9 L1290 822.6 L1292 823.7 L1294 823.5 L1296 823.6 L1298 829.4 L1300 831.4 L1302 829.6 L1304 827.5 L1306 828.1 L1308 829.5 L1310 831.8 L1312 832.0 L1314 833.9 L1316 832.4 L1318 831.4 L1320 831.8 L1322 833.4 L1324 830.0 L1326 829.1 L1328 828.5 L1330 827.2 L1332 828.8 L1334 828.7 L1336 828.3 L1338 830.6 L1340 834.5 L1341 836.5 1343 841.5" stroke="#1e90ff" stroke-width="1" stroke-linejoin="bevel" fill="none" shape-rendering="crispEdges"/>
<path d="M108.3 678.6L1715 248.1" stroke="#1e90ff" stroke-width="2" fill="none"/>
<path d="M1338 1H1349.5L1343.7 7.5Z" fill="#778899"/>
<g stroke="#ed1c24" stroke-width="2.7" fill="none" stroke-linecap="round" stroke-linejoin="round">
<path d="M1375.7 255.4L1415.8 107.4"/><path d="M1404.8 118.3L1415.8 107.4L1420 122.3"/>
<path d="M1368.6 296L1408 332L1507.3 121.2"/><path d="M1491.5 139.5L1507.3 121.2L1506 141"/>
</g>
<g stroke="#fff" stroke-width="2.7" fill="none" stroke-linecap="round" stroke-linejoin="round">
<path d="M1501 380L1520 453"/><path d="M1509.6 443.8L1520 453L1520 440"/>
<path d="M1458 510.2L1480.5 582"/><path d="M1471.7 573.4L1480.5 582L1480 562.4"/>
</g>
</svg>
<div class="ax" style="top:36px">161.380</div>
<div class="ax" style="top:85px">159.700</div>
<div class="ax" style="top:134px">157.990</div>
<div class="ax" style="top:183px">156.310</div>
<div class="ax" style="top:232px">154.600</div>
<div class="ax" style="top:281px">152.920</div>
<div class="ax" style="top:330px">151.210</div>
<div class="ax" style="top:379px">149.530</div>
<div class="ax" style="top:428px">147.820</div>
<div class="ax" style="top:477px">146.140</div>
<div class="ax" style="top:526px">144.430</div>
<div class="ax" style="top:575px">142.750</div>
<div class="ax" style="top:624px">141.040</div>
<div class="ax" style="top:673px">139.360</div>
<div class="ax" style="top:722px">137.650</div>
<div class="bx" style="top:18px"><span>161.996</span></div>
<div class="bx" style="top:70px"><span>160.222</span></div>
<div class="bx" style="top:242px"><span>154.225</span></div>
<div class="bx" style="top:665px"><span>139.617</span></div>
<div class="bx" style="top:734px"><span>137.258</span></div>
<div class="ax" style="left:1719.4px;top:752px">1.2852</div>
<div class="ax" style="left:1719.6px;top:775px">0.00</div>
<div class="ax" style="left:1719.3px;top:797px">-1.2082</div>
<div class="ax" style="left:1719px;top:816px">100</div>
<div class="ax" style="left:1719px;top:818px">70</div>
<div class="ax" style="left:1719px;top:832px">30</div>
<div class="ax" style="left:1719px;top:834px">0</div>
<div class="ax" style="left:-5px;top:754px">7 -0.1230</div>
<div class="big" id="t1" style="left:449.2px;top:164px;font-size:28.4px;line-height:32px;transform:scaleX(1.07)">USDJPY</div>
<div class="big" id="t2" style="left:444.3px;top:206.1px;font-size:28.4px;line-height:32px;transform:scaleX(1.095)">H4 Chart</div>
<div class="big" id="t3" style="left:1411px;top:55.2px;font-size:20.8px;line-height:24px;transform:scaleX(1.135)">160.20</div>
<div class="big" id="t4" style="left:1313.2px;top:272.2px;font-size:20.8px;line-height:24px;transform:scaleX(1.127)">153.50-60</div>
<div class="big" id="t5" style="left:1387px;top:341.2px;font-size:20.8px;line-height:24px;transform:scaleX(1.126);color:#1e90ff">150.70-90</div>
<div class="big" id="t6" style="left:1424px;top:463.2px;font-size:20.8px;line-height:24px;transform:scaleX(1.135);color:#1e90ff">149.35</div>
</body></html>
